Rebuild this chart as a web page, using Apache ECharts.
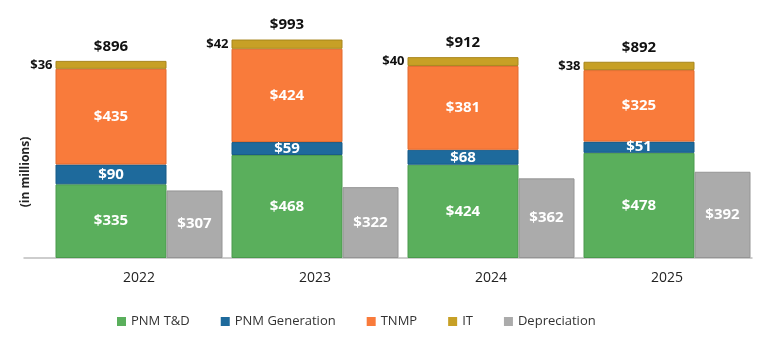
<!DOCTYPE html>
<html><head><meta charset="utf-8">
<script src="https://cdn.jsdelivr.net/npm/echarts@6/dist/echarts.min.js"></script>
<style>html,body{margin:0;padding:0;background:#fff}#c{width:768px;height:341px}</style>
</head><body><div id="c"></div>
<script>
const years = ['2022','2023','2024','2025'];
const pnmTD = [335, 468, 424, 478];
const pnmGen = [90, 59, 68, 51];
const tnmp = [435, 424, 381, 325];
const it = [36, 42, 40, 38];
const totals = [896, 993, 912, 892];
const depreciation = [307, 322, 362, 392];

const FONT = '"Open Sans", "Liberation Sans", sans-serif';
const inLabel = {show:true, position:'inside', color:'#fff', fontWeight:'bold', fontSize:15, fontFamily:FONT,
  formatter: p => '$' + p.value};
const STACKW = 111, DEPW = 56;

const chart = echarts.init(document.getElementById('c'), null, {renderer:'canvas'});
chart.setOption({
  animation:false,
  backgroundColor:'#fff',
  grid:[
    {left:51, right:13, top:16, bottom:83},
    {left:24, right:16, top:16, bottom:83}
  ],
  xAxis:[
    {type:'category', data:years, gridIndex:0,
     axisLine:{show:false}, axisTick:{show:false},
     axisLabel:{color:'#222', fontSize:14, fontFamily:FONT, margin:13}},
    {type:'value', gridIndex:1, min:0, max:1,
     axisLine:{show:true, lineStyle:{color:'#bdbdbd', width:1.5}},
     axisTick:{show:false}, axisLabel:{show:false}, splitLine:{show:false}}
  ],
  yAxis:[
    {type:'value', gridIndex:0, min:0, max:1100, show:false},
    {type:'value', gridIndex:1, min:0, max:1, show:false}
  ],
  legend:{
    data:['PNM T&D','PNM Generation','TNMP','IT','Depreciation'],
    bottom:8, left:112, itemWidth:9, itemHeight:9, itemGap:31, icon:'rect',
    itemStyle:{borderWidth:0},
    textStyle:{color:'#333', fontSize:13, fontFamily:FONT}
  },
  graphic:[{type:'text', x:26, y:172, rotation:Math.PI/2,
    style:{text:'(in millions)', font:'bold 12px ' + FONT, fill:'#222', align:'center', verticalAlign:'middle'}}],
  series:[
    {name:'PNM T&D', type:'bar', stack:'a', barWidth:STACKW, barGap:'0%', data:pnmTD,
     itemStyle:{color:'#5aaf5c', borderColor:'#4a9a4c', borderWidth:1}, label:inLabel},
    {name:'PNM Generation', type:'bar', stack:'a', barWidth:STACKW, data:pnmGen,
     itemStyle:{color:'#1e6a9c', borderColor:'#175a86', borderWidth:1}, label:inLabel},
    {name:'TNMP', type:'bar', stack:'a', barWidth:STACKW, data:tnmp,
     itemStyle:{color:'#f97b3b', borderColor:'#e26a2e', borderWidth:1}, label:inLabel},
    {name:'IT', type:'bar', stack:'a', barWidth:STACKW, data:it,
     itemStyle:{color:'#c7a026', borderColor:'#a8861c', borderWidth:1},
     label:{show:true, position:'left', distance:3, color:'#111', fontWeight:'bold', fontSize:13, fontFamily:FONT,
       formatter: p => '$' + p.value}},
    {name:'Total', type:'bar', stack:'a', barWidth:STACKW, data:totals.map(() => 0),
     itemStyle:{color:'transparent'},
     label:{show:true, position:'top', distance:7, color:'#111', fontWeight:'bold', fontSize:15, fontFamily:FONT,
       formatter: p => '$' + totals[p.dataIndex]}},
    {name:'Depreciation', type:'bar', stack:'b', barWidth:DEPW, barGap:'0%', data:depreciation,
     itemStyle:{color:'#ababab', borderColor:'#949494', borderWidth:1}, label:inLabel}
  ]
});
</script></body></html>
